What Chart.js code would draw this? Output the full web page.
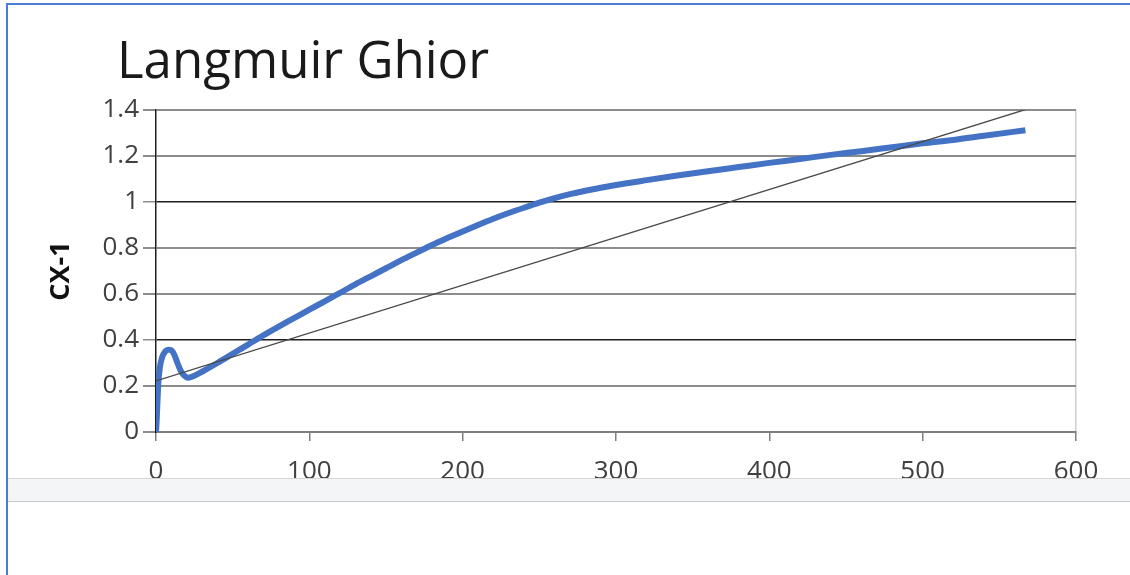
<!DOCTYPE html>
<html>
<head>
<meta charset="utf-8">
<script src="https://cdn.jsdelivr.net/npm/chart.js@4/dist/chart.umd.min.js"></script>
<style>
  html, body { margin: 0; padding: 0; background: #fff; }
  #wrap { position: relative; width: 1130px; height: 575px; overflow: hidden; }
  #frame {
    position: absolute; left: 6px; top: 3px; right: -4px; bottom: -4px;
    border-top: 2px solid #4a7ed6; border-left: 2px solid #4a7ed6;
    pointer-events: none;
  }
  #band {
    position: absolute; left: 8px; right: 0; top: 478px; height: 22px;
    background: #f4f5f7; border-top: 1px solid #d4d6da; border-bottom: 1px solid #c9cbcf;
  }
  canvas { position: absolute; left: 0; top: 0; }
</style>
</head>
<body>
<div id="wrap">
  <canvas id="chart" width="1130" height="575"></canvas>
  <div id="band"></div>
  <div id="frame"></div>
</div>
<script>
// Chart text
const chartTitle = 'Langmuir Ghior';
const yAxisTitle = 'CX-1';

// Axis ticks
const xTickValues = [0, 100, 200, 300, 400, 500, 600];
const yTickLabels = ['0', '0.2', '0.4', '0.6', '0.8', '1', '1.2', '1.4'];

const curveX = [0, 0.5, 1, 1.5, 2.5, 4, 6, 8, 10, 12, 14, 16, 18, 21, 25, 30, 40, 50, 60, 70,
                80, 90, 100, 110, 120, 130, 140, 150, 160, 170, 180, 190, 200, 210, 220, 230,
                240, 250, 260, 270, 280, 290, 300, 320, 340, 360, 380, 400, 420, 440, 460,
                480, 500, 520, 540, 567];
const curveY = [0, 0.06, 0.14, 0.21, 0.28, 0.325, 0.35, 0.358, 0.355, 0.335, 0.3, 0.268, 0.248,
                0.236, 0.245, 0.262, 0.3, 0.34, 0.38, 0.42, 0.458, 0.495, 0.532, 0.568, 0.605,
                0.642, 0.677, 0.712, 0.747, 0.78, 0.813, 0.843, 0.872, 0.9, 0.927, 0.952, 0.975,
                0.997, 1.017, 1.034, 1.049, 1.062, 1.074, 1.095, 1.115, 1.134, 1.152, 1.17, 1.187,
                1.205, 1.221, 1.238, 1.255, 1.27, 1.288, 1.312];

// Straight reference line
const trendX = [0, 567];
const trendY = [0.222, 1.402];

const curvePoints = curveX.map((x, i) => ({ x: x, y: curveY[i] }));
const trendPoints = trendX.map((x, i) => ({ x: x, y: trendY[i] }));

const sheetTitle = {
    id: 'sheetTitle',
    afterDraw(chart) {
        const ctx = chart.ctx;
        ctx.save();
        ctx.font = '51px "Open Sans"';
        ctx.fillStyle = '#1a1a1a';
        ctx.textBaseline = 'alphabetic';
        ctx.textAlign = 'left';
        ctx.fillText(chartTitle, 117, 78);
        ctx.restore();
    }
};

function isDarkLine(v) {
    return Math.abs(v - 1) < 1e-6 || Math.abs(v - 0.4) < 1e-6;
}

const ctx = document.getElementById('chart').getContext('2d');
new Chart(ctx, {
    type: 'scatter',
    data: {
        datasets: [
            {
                label: 'Linear',
                data: trendPoints,
                showLine: true,
                borderColor: '#4a4a4a',
                borderWidth: 1.3,
                pointRadius: 0
            },
            {
                label: 'CX-1',
                data: curvePoints,
                showLine: true,
                borderColor: '#4472c4',
                borderWidth: 6,
                pointRadius: 0,
                cubicInterpolationMode: 'monotone'
            }
        ]
    },
    options: {
        responsive: false,
        animation: false,
        layout: {
            padding: { left: 0, right: 54, top: 110, bottom: 0 }
        },
        plugins: {
            legend: { display: false },
            title: { display: false },
            tooltip: { enabled: false }
        },
        scales: {
            x: {
                type: 'linear',
                min: 0,
                max: 600,
                afterFit: function(scale) { scale.height = 143; },
                afterBuildTicks: function(scale) {
                    scale.ticks = xTickValues.map(v => ({ value: v }));
                },
                border: { color: '#7f7f7f', width: 2 },
                grid: {
                    color: function(c) {
                        return c.tick && c.tick.value === 600 ? '#cfcfcf' : 'rgba(0,0,0,0)';
                    },
                    lineWidth: 1.5,
                    tickColor: '#7f7f7f',
                    tickLength: 9
                },
                ticks: {
                    padding: 15,
                    color: '#404040',
                    font: { family: '"Open Sans"', size: 26 },
                    maxRotation: 0
                }
            },
            y: {
                type: 'linear',
                min: 0,
                max: 1.4,
                afterFit: function(scale) { scale.width = 156; },
                border: { color: '#1e1e1e', width: 1.5 },
                grid: {
                    color: function(c) {
                        return c.tick && isDarkLine(c.tick.value) ? '#1e1e1e' : '#8c8c8c';
                    },
                    lineWidth: function(c) {
                        return c.tick && isDarkLine(c.tick.value) ? 1.5 : 2;
                    },
                    tickColor: '#8c8c8c',
                    tickLength: 13
                },
                ticks: {
                    stepSize: 0.2,
                    padding: 4,
                    color: '#404040',
                    font: { family: '"Open Sans"', size: 26 },
                    callback: function(value, index) { return yTickLabels[index]; }
                },
                title: {
                    display: true,
                    text: yAxisTitle,
                    color: '#111',
                    font: { family: '"Open Sans"', size: 27, weight: 'bold' },
                    padding: { top: 45, bottom: 0 }
                }
            }
        }
    },
    plugins: [sheetTitle]
});
</script>
</body>
</html>
